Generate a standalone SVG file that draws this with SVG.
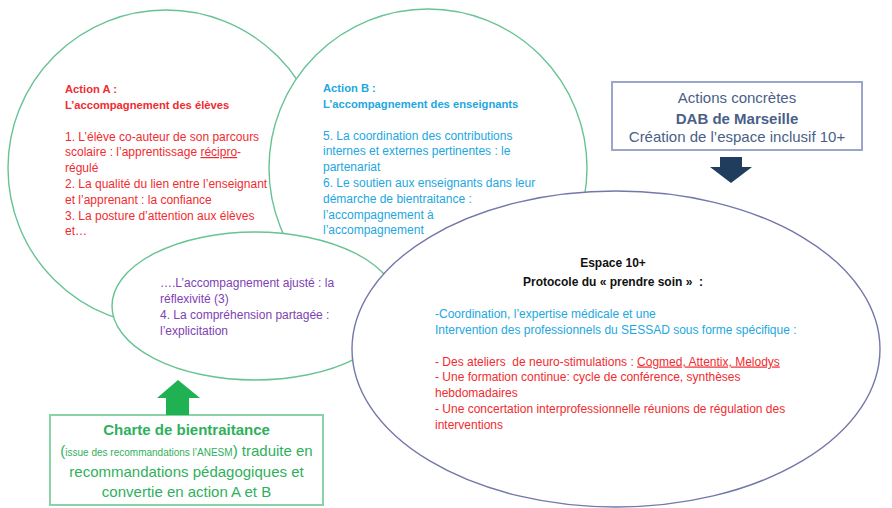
<svg xmlns="http://www.w3.org/2000/svg" width="892" height="508" viewBox="0 0 892 508">
<style>
.shape{fill:#fff;stroke:#68c393;stroke-width:1.4}
.big{fill:#fff;stroke:#7377aa;stroke-width:1.4}
text{font-family:"Liberation Sans",Arial,sans-serif;font-size:12px}
.t{font-weight:bold;font-size:11.2px}
.red{fill:#f12b30}
.blue{fill:#22a7e0}
.purple{fill:#7d42b4}
.navy{fill:#4a5f88;font-size:15px}
.green{fill:#2fb05c;font-size:15px}
.u{text-decoration:underline}
</style>
<rect width="892" height="508" fill="#fff"/>

<g id="actionA">
<circle class="shape" cx="166" cy="168" r="158"/>
<text class="red t" x="65" y="92.5">Action A :</text>
<text class="red t" x="65" y="108.5">L’accompagnement des élèves</text>
<text class="red" x="65" y="140.5">1. L’élève co-auteur de son parcours</text>
<text class="red" x="65" y="156">scolaire : l’apprentissage <tspan class="u">récipro</tspan>-</text>
<text class="red" x="65" y="172">régulé</text>
<text class="red" x="65" y="187.5">2. La qualité du lien entre l’enseignant</text>
<text class="red" x="65" y="203.5">et l’apprenant : la confiance</text>
<text class="red" x="65" y="219.5">3. La posture d’attention aux élèves</text>
<text class="red" x="65" y="235">et…</text>
</g>

<g id="actionB">
<circle class="shape" cx="428" cy="168" r="159"/>
<text class="blue t" x="323" y="91.5">Action B :</text>
<text class="blue t" x="323" y="107.5">L’accompagnement des enseignants</text>
<text class="blue" x="323" y="139.5">5. La coordination des contributions</text>
<text class="blue" x="323" y="155">internes et externes pertinentes : le</text>
<text class="blue" x="323" y="171">partenariat</text>
<text class="blue" x="323" y="187">6. Le soutien aux enseignants dans leur</text>
<text class="blue" x="323" y="202.5">démarche de bientraitance :</text>
<text class="blue" x="323" y="218.5">l’accompagnement à</text>
<text class="blue" x="323" y="234">l’accompagnement</text>
</g>

<g id="ajuste">
<ellipse class="shape" cx="255" cy="306" rx="143" ry="74"/>
<text class="purple" x="160" y="287">….L’accompagnement ajusté : la</text>
<text class="purple" x="160" y="303">réflexivité (3)</text>
<text class="purple" x="160" y="319">4. La compréhension partagée :</text>
<text class="purple" x="160" y="335">l’explicitation</text>
</g>

<g id="espace10">
<ellipse class="big" cx="616" cy="349" rx="264" ry="158"/>
<text x="613" y="267" text-anchor="middle" font-weight="bold" fill="#111">Espace 10+</text>
<text x="613" y="285.5" text-anchor="middle" font-weight="bold" fill="#111" xml:space="preserve">Protocole du « prendre soin »  :</text>
<text class="blue" x="435" y="317.5">-Coordination, l’expertise médicale et une</text>
<text class="blue" x="435" y="333.5">Intervention des professionnels du SESSAD sous forme spécifique :</text>
<text class="red" x="435" y="365.5" xml:space="preserve">- Des ateliers  de neuro-stimulations : <tspan class="u">Cogmed, Attentix, Melodys</tspan></text>
<text class="red" x="435" y="381">- Une formation continue: cycle de conférence, synthèses</text>
<text class="red" x="435" y="396.5">hebdomadaires</text>
<text class="red" x="435" y="412.5">- Une concertation interprofessionnelle réunions de régulation des</text>
<text class="red" x="435" y="428.5">interventions</text>
</g>

<g id="dab">
<rect x="612" y="82" width="250" height="68" fill="#fff" stroke="#9aa6cc" stroke-width="2"/>
<text class="navy" x="737" y="102.5" text-anchor="middle">Actions concrètes</text>
<text class="navy" x="737" y="124" text-anchor="middle" font-weight="bold" fill="#2c4b7e">DAB de Marseille</text>
<text class="navy" x="737" y="141.5" text-anchor="middle">Création de l’espace inclusif 10+</text>
</g>

<g id="charte">
<rect x="50" y="415" width="273" height="90" fill="#fff" stroke="#88d3a5" stroke-width="2"/>
<text class="green" x="186.5" y="435" text-anchor="middle" font-weight="bold">Charte de bientraitance</text>
<text class="green" x="186.5" y="456" text-anchor="middle">(<tspan font-size="10">issue des recommandations l’ANESM</tspan>) traduite en</text>
<text class="green" x="186.5" y="477" text-anchor="middle">recommandations pédagogiques et</text>
<text class="green" x="186.5" y="497" text-anchor="middle">convertie en action A et B</text>
</g>

<g id="connectors">
<polygon points="720,157 742,157 742,167 752,167 731,183 710,167 720,167" fill="#213d5e"/>
<polygon points="166,415 189,415 189,398 200,398 178,380 157,398 166,398" fill="#1fb152"/>
</g>
</svg>
